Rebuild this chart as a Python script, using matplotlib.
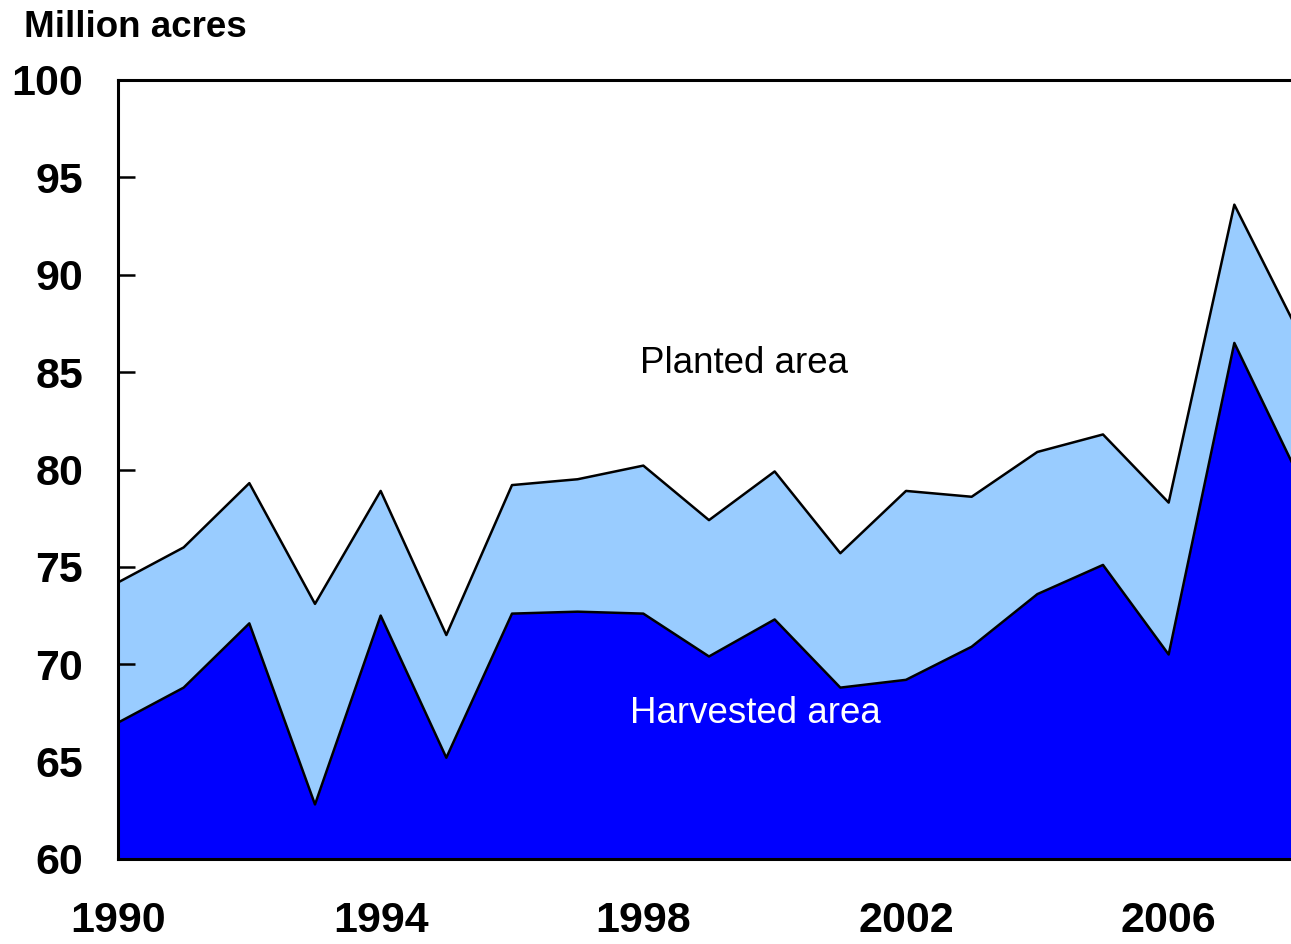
import matplotlib
matplotlib.use("Agg")
import matplotlib.pyplot as plt
from matplotlib.ticker import MultipleLocator, FixedLocator

years = list(range(1990, 2009))
planted = [74.2, 76.0, 79.3, 73.1, 78.9, 71.5, 79.2, 79.5, 80.2, 77.4, 79.9,
           75.7, 78.9, 78.6, 80.9, 81.8, 78.3, 93.6, 86.9]
harvested = [67.0, 68.8, 72.1, 62.8, 72.5, 65.2, 72.6, 72.7, 72.6, 70.4, 72.3,
             68.8, 69.2, 70.9, 73.6, 75.1, 70.5, 86.5, 79.5]
xtick_labels = ["1990", "1994", "1998", "2002", "2006"]

plt.rcParams['font.family'] = ['Liberation Sans', 'DejaVu Sans']

W, H = 1291, 944
fig = plt.figure(figsize=(W / 100, H / 100), dpi=100)
left, right, top, bottom = 118, 1300, 80, 859
ax = fig.add_axes([left / W, (H - bottom) / H, (right - left) / W, (bottom - top) / H])

light = "#99CCFF"
dark = "#0000FF"
ax.fill_between(years, 60, planted, color=light, linewidth=0, zorder=1)
ax.fill_between(years, 60, harvested, color=dark, linewidth=0, zorder=2)
ax.plot(years, planted, color="black", lw=1.8, zorder=3)
ax.plot(years, harvested, color="black", lw=1.8, zorder=3)

ax.set_xlim(1990, 2008)
ax.set_ylim(60, 100)

for s in ["left", "bottom", "top", "right"]:
    ax.spines[s].set_linewidth(2.2)
    ax.spines[s].set_zorder(5)

ax.yaxis.set_major_locator(MultipleLocator(5))
ax.tick_params(axis='y', direction='in', length=12, width=1.8, labelsize=31, pad=25)
ax.xaxis.set_major_locator(FixedLocator([int(t) for t in xtick_labels]))
ax.set_xticklabels(xtick_labels)
ax.xaxis.set_minor_locator(MultipleLocator(1))
ax.tick_params(axis='x', which='both', direction='in', length=14, width=1.8, labelsize=31, pad=30)
for lbl in ax.get_xticklabels() + ax.get_yticklabels():
    lbl.set_fontweight('bold')

fig.text(24 / W, 1 - 37 / H, "Million acres", fontsize=26.5, fontweight='bold',
         ha='left', va='baseline')
fig.text(744 / W, 1 - 373 / H, "Planted area", fontsize=26.5, color="black",
         ha='center', va='baseline')
fig.text(755 / W, 1 - 723 / H, "Harvested area", fontsize=26.5, color="white",
         ha='center', va='baseline')

fig.savefig("out.png", dpi=100)
